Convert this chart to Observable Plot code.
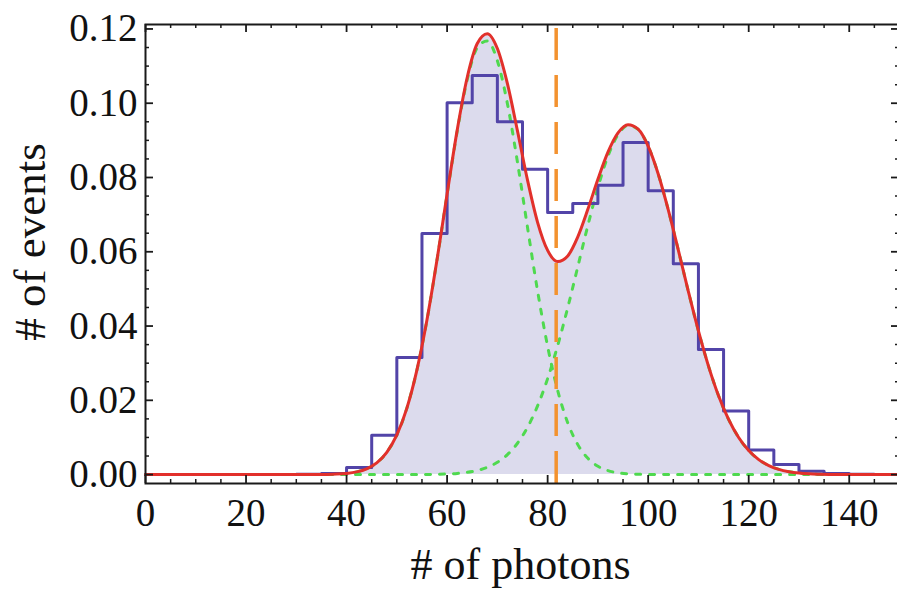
<!DOCTYPE html>
<html>
<head>
<meta charset="utf-8">
<script src="https://cdn.jsdelivr.net/npm/d3@7"></script>
<script src="https://cdn.jsdelivr.net/npm/@observablehq/plot@0.6"></script>
<style>
  html, body { margin: 0; padding: 0; background: #fff; overflow: hidden; }
</style>
</head>
<body>
<div id="chart"></div>
<script>
// ---- Histogram (bin width 5, normalized) ----
const binStart = [0, 5, 10, 15, 20, 25, 30, 35, 40, 45, 50, 55, 60, 65, 70, 75, 80, 85, 90, 95, 100, 105, 110, 115, 120, 125, 130, 135, 140, 145];
const binValue = [0, 0, 0, 0, 0, 0, 0.0001, 0.0003, 0.0019, 0.0106, 0.0315, 0.0649, 0.1001, 0.1075, 0.0950, 0.0822, 0.0706, 0.0730, 0.0779, 0.0894, 0.0764, 0.0568, 0.0337, 0.0171, 0.0066, 0.0027, 0.0009, 0.0003, 0.0001, 0];
const binEnd = 150;

// ---- Fitted curves ----
const curveX = [0, 20, 30, 32, 34, 36, 38, 40, 42, 44, 46, 48, 50, 52, 54, 56, 58, 60, 62, 64, 66, 68, 70, 72, 74, 76, 78, 80, 82, 84, 86, 88, 90, 92, 94, 96, 98, 100, 102, 104, 106, 108, 110, 112, 114, 116, 118, 120, 122, 124, 126, 128, 130, 132, 134, 136, 138, 140, 142, 144, 146, 148, 150];
const peak1 = [0, 0, 0, 0.00001, 0.00002, 0.00005, 0.00013, 0.00032, 0.00073, 0.00157, 0.00316, 0.0060, 0.01069, 0.0179, 0.02817, 0.04164, 0.05781, 0.0754, 0.09237, 0.10632, 0.11496, 0.11677, 0.11142, 0.09988, 0.08411, 0.06654, 0.04944, 0.03452, 0.02264, 0.01395, 0.00807, 0.00439, 0.00224, 0.00108, 0.00048, 0.0002, 0.00008, 0.00003, 0.00001, 0, 0, 0, 0, 0, 0, 0, 0, 0, 0, 0, 0, 0, 0, 0, 0, 0, 0, 0, 0, 0, 0, 0, 0];
const peak2 = [0, 0, 0, 0, 0, 0, 0, 0, 0, 0, 0, 0, 0, 0, 0, 0.00004, 0.00008, 0.00016, 0.00032, 0.00061, 0.00111, 0.00195, 0.0033, 0.00538, 0.00844, 0.01274, 0.01849, 0.02584, 0.03474, 0.04494, 0.05596, 0.06704, 0.07728, 0.08574, 0.09153, 0.09403, 0.09295, 0.08842, 0.08094, 0.07129, 0.06043, 0.04929, 0.03869, 0.02922, 0.02124, 0.01486, 0.00999, 0.00647, 0.00403, 0.00242, 0.0014, 0.00078, 0.00041, 0.00021, 0.00011, 0.00005, 0.00002, 0.00001, 0, 0, 0, 0, 0];
const fitTotal = [0, 0, 0, 0.00001, 0.00002, 0.00005, 0.00013, 0.00032, 0.00073, 0.00157, 0.00316, 0.0060, 0.01069, 0.0179, 0.0282, 0.04168, 0.05789, 0.07556, 0.09269, 0.10693, 0.11607, 0.11872, 0.11472, 0.10526, 0.09255, 0.07928, 0.06793, 0.06036, 0.05738, 0.05889, 0.06403, 0.07143, 0.07952, 0.08682, 0.09201, 0.09423, 0.09303, 0.08845, 0.08095, 0.07129, 0.06043, 0.04929, 0.03869, 0.02922, 0.02124, 0.01486, 0.00999, 0.00647, 0.00403, 0.00242, 0.0014, 0.00078, 0.00041, 0.00021, 0.00011, 0.00005, 0.00002, 0.00001, 0, 0, 0, 0, 0];

// ---- Threshold and axes ----
const threshold = 81.7;
const xTicks = [0, 20, 40, 60, 80, 100, 120, 140];
const yTicks = [0, 0.02, 0.04, 0.06, 0.08, 0.10, 0.12];
const xLabel = "# of photons";
const yLabel = "# of events";

// ---- Tables built from the arrays ----
const hist = binStart.map((x, i) => ({x, y: binValue[i]}));
hist.push({x: binEnd, y: binValue[binValue.length - 1]});
const curves = curveX.map((x, i) => ({x, g1: peak1[i], g2: peak2[i], total: fitTotal[i]}));

const xMinor = d3.range(0, 151, 5).filter(v => v % 20 !== 0);
const yMinor = d3.range(0, 25).map(i => i * 0.005).filter(v => Math.abs(v / 0.02 - Math.round(v / 0.02)) > 1e-6);

const W = 897, H = 591, mL = 145, mR = -2, mT = 24, mB = 108;
const frameH = H - mT - mB, frameW = W - mL - mR;
const major = 8, minor = 4;
const tickColor = "#1a1a1a";
const font = "'Liberation Serif', 'Times New Roman', serif";

const chart = Plot.plot({
  width: W, height: H,
  marginLeft: mL, marginRight: mR, marginTop: mT, marginBottom: mB,
  x: {domain: [0, 150]},
  y: {domain: [-0.0024, 0.1212]},
  style: {fontFamily: font, background: "#fff", color: "#111"},
  marks: [
    Plot.areaY(curves, {x: "x", y: "total", fill: "#dcdbed", curve: "monotone-x"}),
    Plot.line(curves, {x: "x", y: "g1", stroke: "#4fd94f", strokeWidth: 3, strokeDasharray: "5,9", curve: "monotone-x"}),
    Plot.line(curves, {x: "x", y: "g2", stroke: "#4fd94f", strokeWidth: 3, strokeDasharray: "5,9", curve: "monotone-x"}),
    Plot.line(hist, {x: "x", y: "y", curve: "step-after", stroke: "#5244a8", strokeWidth: 3}),
    Plot.line(curves, {x: "x", y: "total", stroke: "#e2302b", strokeWidth: 3, curve: "monotone-x"}),
    Plot.ruleX([threshold], {stroke: "#f3922f", strokeWidth: 3.5, strokeDasharray: "32,15", insetTop: 4, insetBottom: -8}),
    Plot.frame({stroke: tickColor, strokeWidth: 2}),
    // inward ticks on all four sides
    Plot.tickX(xTicks, {x: d => d, insetTop: frameH - major, stroke: tickColor, strokeWidth: 1.8}),
    Plot.tickX(xMinor, {x: d => d, insetTop: frameH - minor, stroke: tickColor, strokeWidth: 1.5}),
    Plot.tickX(xTicks, {x: d => d, insetBottom: frameH - major, stroke: tickColor, strokeWidth: 1.8}),
    Plot.tickX(xMinor, {x: d => d, insetBottom: frameH - minor, stroke: tickColor, strokeWidth: 1.5}),
    Plot.tickY(yTicks, {y: d => d, insetRight: frameW - major, stroke: tickColor, strokeWidth: 1.8}),
    Plot.tickY(yMinor, {y: d => d, insetRight: frameW - minor, stroke: tickColor, strokeWidth: 1.5}),
    Plot.tickY(yTicks, {y: d => d, insetLeft: frameW - major, stroke: tickColor, strokeWidth: 1.8}),
    Plot.tickY(yMinor, {y: d => d, insetLeft: frameW - minor, stroke: tickColor, strokeWidth: 1.5}),
    Plot.axisX(xTicks, {tickSize: 0, tickPadding: 15, fontSize: 39, label: null, tickFormat: d => String(d)}),
    Plot.axisY(yTicks, {tickSize: 0, tickPadding: 8, fontSize: 39, label: null, tickFormat: d3.format(".2f")}),
    Plot.text([xLabel], {frameAnchor: "bottom", textAnchor: "middle", dx: -2, dy: 95, lineAnchor: "bottom", fontSize: 44, fill: "#111"}),
    Plot.text([yLabel], {frameAnchor: "left", textAnchor: "middle", rotate: -90, dx: -101, dy: -12, lineAnchor: "bottom", fontSize: 45, fill: "#111"})
  ]
});
document.getElementById("chart").appendChild(chart);
</script>
</body>
</html>
